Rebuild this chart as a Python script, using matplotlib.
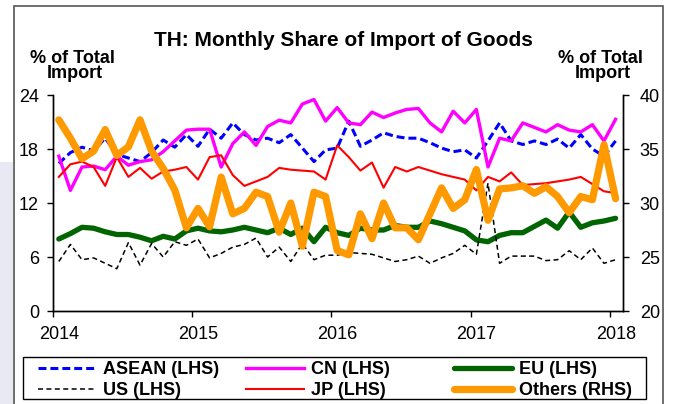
import numpy as np
import matplotlib.pyplot as plt
import matplotlib.transforms as mtransforms
from matplotlib.patches import Rectangle

plt.rcParams['font.family'] = ['Liberation Sans', 'DejaVu Sans']

# monthly data, Jan 2014 .. Jan 2018 (49 months)
asean = [16.4, 17.6, 18.2, 17.8, 19.2, 17.4, 17.0, 16.6, 17.6, 19.0, 18.2, 19.6,
         18.3, 20.2, 19.2, 20.9, 19.6, 19.0, 19.2, 18.7, 19.6, 18.1, 16.6, 17.9,
         18.1, 21.1, 18.3, 19.0, 19.8, 19.4, 19.2, 19.2, 18.7, 18.1, 17.7, 17.9,
         17.0, 18.9, 20.9, 18.9, 18.5, 18.9, 18.5, 19.1, 18.1, 19.6, 18.0, 17.2, 18.9]
cn = [17.2, 13.4, 16.0, 16.1, 15.7, 17.2, 16.2, 16.6, 16.8, 17.7, 18.9, 20.1,
      20.2, 20.2, 16.0, 18.6, 19.9, 18.4, 20.5, 21.2, 20.9, 23.0, 23.5, 21.1,
      22.6, 20.9, 20.7, 22.1, 21.5, 22.0, 22.4, 22.5, 20.9, 19.9, 22.2, 20.9,
      22.4, 16.0, 19.2, 18.9, 20.9, 20.4, 19.9, 20.7, 20.1, 19.9, 20.7, 18.9, 21.3]
eu = [8.0, 8.6, 9.3, 9.2, 8.8, 8.5, 8.5, 8.2, 7.8, 8.3, 8.0, 8.9,
      9.2, 8.9, 8.8, 9.0, 9.3, 9.0, 8.7, 9.2, 8.5, 9.2, 7.7, 9.3,
      8.7, 8.4, 9.2, 9.0, 9.0, 9.5, 9.3, 9.3, 10.0, 9.7, 9.3, 8.9,
      7.9, 7.7, 8.4, 8.7, 8.7, 9.4, 10.1, 9.2, 11.0, 9.3, 9.8, 10.0, 10.3]
us = [5.5, 7.4, 5.7, 5.9, 5.3, 4.7, 7.6, 5.1, 7.5, 6.0, 7.7, 7.3,
      8.0, 5.9, 6.4, 7.1, 7.4, 8.1, 6.0, 7.1, 5.5, 7.5, 5.7, 6.2,
      6.2, 6.5, 6.4, 6.3, 5.9, 5.5, 5.7, 6.1, 5.3, 5.9, 6.4, 7.3,
      6.3, 14.2, 5.3, 6.1, 6.1, 6.1, 5.6, 5.7, 6.7, 5.7, 7.0, 5.3, 5.7]
jp = [14.9, 16.3, 16.6, 16.0, 13.9, 17.1, 14.9, 15.9, 14.7, 15.5, 15.7, 16.0,
      14.6, 17.1, 17.3, 15.1, 13.9, 14.4, 14.9, 15.9, 15.7, 15.6, 15.5, 14.6,
      18.4, 17.1, 15.6, 16.5, 13.7, 16.0, 15.5, 16.0, 15.6, 15.2, 14.9, 14.6,
      13.4, 14.9, 14.4, 15.4, 14.0, 14.1, 14.2, 14.4, 14.6, 14.9, 14.1, 13.3, 13.1]
others = [37.7, 36.0, 34.1, 34.8, 36.8, 34.4, 35.2, 37.7, 34.8, 33.2, 31.2, 27.7,
          29.5, 27.8, 32.4, 29.0, 29.5, 31.0, 30.6, 27.3, 30.0, 26.0, 31.0, 30.6,
          25.6, 25.2, 29.0, 26.7, 30.0, 27.7, 27.7, 26.6, 29.0, 31.4, 29.5, 30.3,
          33.1, 28.4, 31.3, 31.4, 31.6, 30.9, 31.5, 30.6, 29.1, 30.6, 30.3, 35.4, 30.4]

years = [2014, 2015, 2016, 2017, 2018]
left_ticks = [0, 6, 12, 18, 24]
right_ticks = [20, 25, 30, 35, 40]

t = 2014 + (np.arange(len(asean)) + 0.5) / 12.0

W, H = 673, 404
fig = plt.figure(figsize=(W / 100, H / 100), dpi=100)
fig.patch.set_facecolor('white')

# page decorations: lavender strip and outer frame
fig.add_artist(Rectangle((0, 0), 13 / W, 0.6, transform=fig.transFigure,
                         fc='#e9e9f3', ec='none', zorder=0))
fig.add_artist(Rectangle((14 / W, -0.1), (663 - 14) / W, 1.1 - 6 / H,
                         transform=fig.transFigure, fill=False, ec='#555555', lw=1.2))

ax = fig.add_axes([53 / W, 1 - 311 / H, (623 - 53) / W, (311 - 95) / H])
ax2 = ax.twinx()

l_asean, = ax.plot(t, asean, color='#0000ff', lw=2.2, ls=(0, (2.6, 1.3)), label='ASEAN (LHS)')
l_cn, = ax.plot(t, cn, color='#ff00ff', lw=2.4, label='CN (LHS)')
l_eu, = ax.plot(t, eu, color='#006400', lw=3.8, solid_capstyle='round',
                solid_joinstyle='round', label='EU (LHS)')
l_us, = ax.plot(t, us, color='black', lw=1.1, ls=(0, (3.3, 2.2)), label='US (LHS)')
l_jp, = ax.plot(t, jp, color='#ff0000', lw=1.5, label='JP (LHS)')
l_oth, = ax2.plot(t, others, color='#ff9900', lw=5.2, solid_capstyle='round',
                  solid_joinstyle='round', label='Others (RHS)')

ax.set_xlim(2014, 2018.095)
ax.set_ylim(0, 24)
ax2.set_ylim(20, 40)
ax.set_xticks(years)
ax.set_yticks(left_ticks)
ax2.set_yticks(right_ticks)

for a in (ax, ax2):
    a.spines['top'].set_visible(False)
    for s in a.spines.values():
        s.set_linewidth(1.0)
ax.tick_params(axis='both', direction='out', length=4, width=1, labelsize=13, pad=6)
ax.tick_params(axis='x', pad=7)
ax2.tick_params(axis='y', direction='out', length=4, width=1, labelsize=13, pad=8)

# year labels sit a little right of their ticks
shift = mtransforms.ScaledTranslation(6 / 100, 0, fig.dpi_scale_trans)
for lab in ax.get_xticklabels():
    lab.set_transform(lab.get_transform() + shift)

# titles
fig.text(343.5 / W, 1 - 46 / H, 'TH: Monthly Share of Import of Goods',
         ha='center', va='baseline', fontsize=15, fontweight='bold')
for cx, txt, by in [(72.5, '% of Total', 63), (74.5, 'Import', 78.5),
                    (600, '% of Total', 63), (603, 'Import', 78.5)]:
    fig.text(cx / W, 1 - by / H, txt, ha='center', va='baseline',
             fontsize=13, fontweight='bold')

# legend box and three legend columns
fig.add_artist(Rectangle((23 / W, 1 - 399 / H), (646 - 23) / W, 42 / H,
                         transform=fig.transFigure, fill=False, ec='black', lw=1.0))
cols = [(38, [l_asean, l_us]), (246, [l_cn, l_jp]), (454, [l_eu, l_oth])]
for x0, hs in cols:
    fig.legend(handles=hs, loc='upper left', bbox_to_anchor=(x0 / W, 1 - 361 / H),
               frameon=False, borderpad=0, borderaxespad=0, handlelength=3.2,
               handletextpad=0.38, labelspacing=0.22,
               prop={'weight': 'bold', 'size': 13})

fig.savefig('out.png', dpi=100)
